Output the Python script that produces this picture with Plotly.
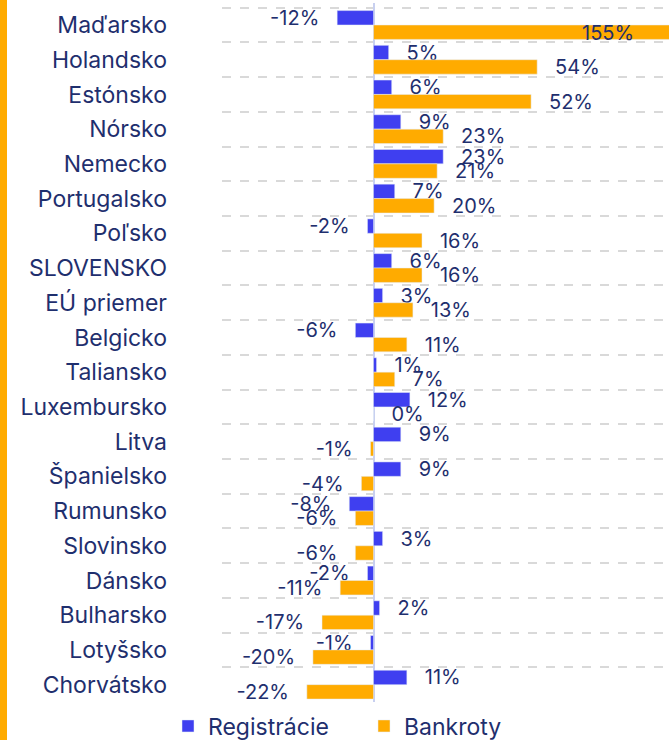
import plotly.graph_objects as go

countries = ["Maďarsko", "Holandsko", "Estónsko", "Nórsko", "Nemecko", "Portugalsko",
             "Poľsko", "SLOVENSKO", "EÚ priemer", "Belgicko", "Taliansko", "Luxembursko",
             "Litva", "Španielsko", "Rumunsko", "Slovinsko", "Dánsko", "Bulharsko",
             "Lotyšsko", "Chorvátsko"]
registracie = [-12, 5, 6, 9, 23, 7, -2, 6, 3, -6, 1, 12, 9, 9, -8, 3, -2, 2, -1, 11]
bankroty = [155, 54, 52, 23, 21, 20, 16, 16, 13, 11, 7, 0, -1, -4, -6, -6, -11, -17, -20, -22]

NAVY = "#1f2f6e"
BLUE = "#3f3ff0"
ORANGE = "#ffab00"
FONT = "Inter"
XMAX = 97.5
PAD = "\u00a0\u00a0\u2009"

def labels(vals):
    out = []
    for v in vals:
        s = f"{v}%"
        if v > XMAX:
            out.append("")
        elif v >= 0:
            out.append(PAD + s)
        else:
            out.append(s + PAD)
    return out

fig = go.Figure()
fig.add_trace(go.Bar(
    name="Registrácie", y=countries, x=registracie, orientation="h",
    marker_color=BLUE, text=labels(registracie), textposition="outside",
    textfont=dict(color=NAVY, size=20, family=FONT), cliponaxis=False,
    constraintext="none",
))
fig.add_trace(go.Bar(
    name="Bankroty", y=countries, x=bankroty, orientation="h",
    marker_color=ORANGE, text=labels(bankroty), textposition="outside",
    textfont=dict(color=NAVY, size=20, family=FONT), cliponaxis=False,
    constraintext="none",
))

# labels of bars that run past the axis end: centred on the full bar
annotations = []
for c, v in zip(countries, bankroty):
    if v > XMAX:
        annotations.append(dict(x=v / 2, y=c, yshift=-8, text=f"{v}%", showarrow=False,
                                font=dict(color=NAVY, size=20, family=FONT)))

fig.update_layout(
    width=669, height=740,
    margin=dict(l=222, r=0, t=3, b=38, autoexpand=False),
    paper_bgcolor="white", plot_bgcolor="white",
    barmode="group", bargap=0.17, bargroupgap=0,
    font=dict(family=FONT, color=NAVY, size=20),
    showlegend=True,
    legend=dict(orientation="h", xref="container", x=168 / 669, xanchor="left",
                yref="container", y=14 / 740, yanchor="middle",
                font=dict(size=23, color=NAVY, family=FONT), traceorder="normal",
                entrywidth=151),
    annotations=annotations,
    shapes=[dict(type="rect", xref="paper", yref="paper",
                 x0=-222/447, x1=-215/447, y0=-38/699, y1=1 + 3/699,
                 fillcolor=ORANGE, line_width=0, layer="above")],
)
fig.update_xaxes(range=[-50, XMAX], showgrid=False, showticklabels=False,
                 zeroline=True, zerolinecolor="#c8d0f0", zerolinewidth=2)
fig.update_yaxes(autorange="reversed", type="category", tickson="boundaries",
                 showgrid=True, gridcolor="#d9d9d9", griddash="dash", gridwidth=1.5,
                 ticks="", ticklabelstandoff=54,
                 tickfont=dict(size=23, color=NAVY, family=FONT))

fig.write_html("out.html", config={"displayModeBar": False},
               post_script="document.body.style.margin='0';")
